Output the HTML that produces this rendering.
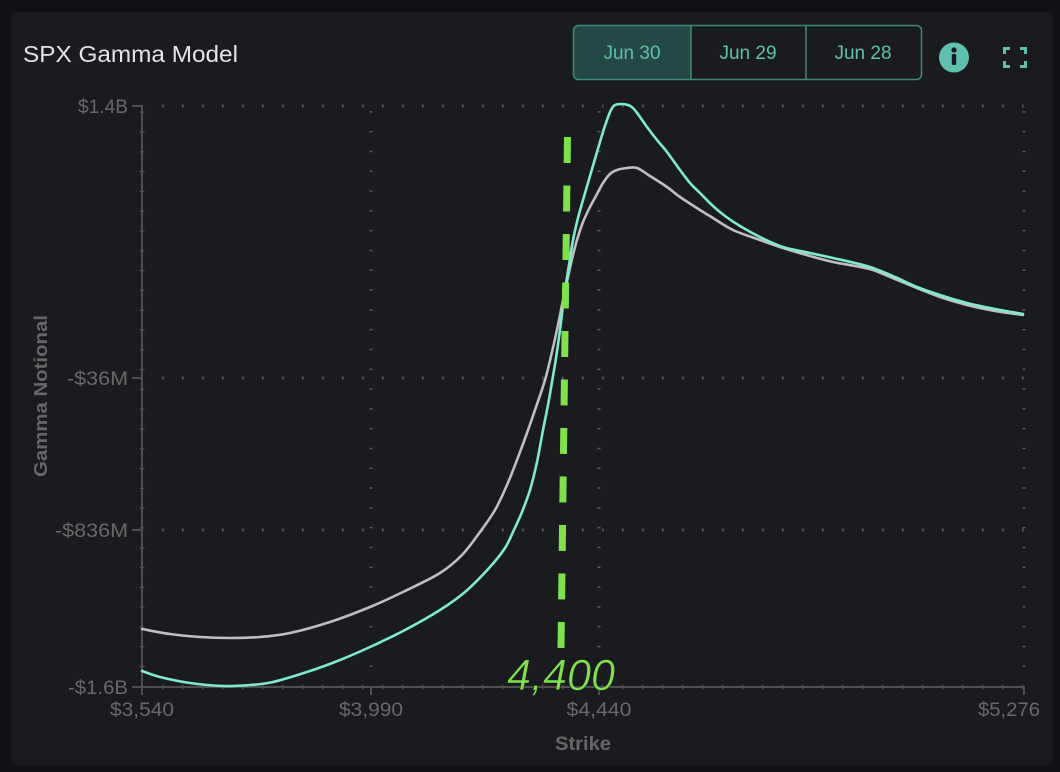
<!DOCTYPE html>
<html><head><meta charset="utf-8"><style>
html,body{margin:0;padding:0;background:#111215;}
svg{display:block;}
</style></head><body>
<svg id="c" width="1060" height="772" viewBox="0 0 1060 772" xmlns="http://www.w3.org/2000/svg" font-family="'Liberation Sans', sans-serif">
<rect x="0" y="0" width="1060" height="772" fill="#111215"/>
<rect x="11" y="12" width="1042" height="753" rx="5" fill="#1a1b1f"/>
<text x="23" y="62" font-size="23" fill="#e4e4e4" textLength="215" lengthAdjust="spacingAndGlyphs">SPX Gamma Model</text>
<!-- buttons -->
<path d="M578.5,25.5 H691 V79.5 H578.5 a5,5 0 0 1 -5,-5 V30.5 a5,5 0 0 1 5,-5 z" fill="#244843"/>
<rect x="573.5" y="25.5" width="348" height="54" rx="5" fill="none" stroke="#3b8b7d" stroke-width="1.5"/>
<line x1="691" y1="25.5" x2="691" y2="79.5" stroke="#3b8b7d" stroke-width="1.5"/>
<line x1="806" y1="25.5" x2="806" y2="79.5" stroke="#3b8b7d" stroke-width="1.5"/>
<g font-size="19" fill="#5ec2ad" text-anchor="middle">
<text x="632" y="59">Jun 30</text>
<text x="748" y="59">Jun 29</text>
<text x="863" y="59">Jun 28</text>
</g>
<circle cx="954" cy="57.5" r="15" fill="#5ec0ad"/>
<circle cx="954" cy="50" r="2.6" fill="#1a1b1f"/>
<rect x="951.8" y="54" width="4.4" height="11" rx="1" fill="#1a1b1f"/>
<g stroke="#5ec0ad" stroke-width="3" fill="none">
<path d="M1004.5,54 V48.5 H1010"/>
<path d="M1020,48.5 H1025.5 V54"/>
<path d="M1025.5,61 V66.5 H1020"/>
<path d="M1010,66.5 H1004.5 V61"/>
</g>
<!-- grid -->
<g stroke="#5a5a5a" fill="none">
<line x1="162" y1="106" x2="1024" y2="106" stroke-width="3" stroke-dasharray="1.5 18.5"/>
<line x1="162" y1="378" x2="1024" y2="378" stroke-width="3" stroke-dasharray="1.5 18.5"/>
<line x1="162" y1="530" x2="1024" y2="530" stroke-width="3" stroke-dasharray="1.5 18.5"/>
<line x1="371" y1="667" x2="371" y2="106" stroke-width="3" stroke-dasharray="1.5 18.3"/>
<line x1="599" y1="667" x2="599" y2="106" stroke-width="3" stroke-dasharray="1.5 18.3"/>
<line x1="1024" y1="667" x2="1024" y2="106" stroke-width="3" stroke-dasharray="1.5 18.3"/>
</g>
<!-- axes -->
<g stroke="#4e4e4e" fill="none">
<line x1="142" y1="105" x2="142" y2="688" stroke-width="2"/>
<line x1="141" y1="687" x2="1025" y2="687" stroke-width="2"/>
<line x1="142" y1="687" x2="142" y2="106" stroke-width="5" stroke-dasharray="1.3 18.5"/>
<line x1="162" y1="687" x2="1024" y2="687" stroke-width="5" stroke-dasharray="1.3 18.7"/>
<line x1="132" y1="106" x2="143" y2="106" stroke-width="2"/>
<line x1="132" y1="378" x2="143" y2="378" stroke-width="2"/>
<line x1="132" y1="530" x2="143" y2="530" stroke-width="2"/>
<line x1="132" y1="687" x2="143" y2="687" stroke-width="2"/>
<line x1="142" y1="686" x2="142" y2="695" stroke-width="2"/>
<line x1="371" y1="686" x2="371" y2="695" stroke-width="2"/>
<line x1="599" y1="686" x2="599" y2="695" stroke-width="2"/>
<line x1="1024" y1="686" x2="1024" y2="695" stroke-width="2"/>
</g>
<g font-size="19" fill="#686868">
<text x="128" y="113" text-anchor="end" textLength="50" lengthAdjust="spacingAndGlyphs">$1.4B</text>
<text x="128" y="385" text-anchor="end" textLength="61" lengthAdjust="spacingAndGlyphs">-$36M</text>
<text x="128" y="537" text-anchor="end" textLength="73" lengthAdjust="spacingAndGlyphs">-$836M</text>
<text x="128" y="694" text-anchor="end" textLength="60" lengthAdjust="spacingAndGlyphs">-$1.6B</text>
<text x="142" y="716" text-anchor="middle" textLength="64" lengthAdjust="spacingAndGlyphs">$3,540</text>
<text x="371" y="716" text-anchor="middle" textLength="64" lengthAdjust="spacingAndGlyphs">$3,990</text>
<text x="599" y="716" text-anchor="middle" textLength="65" lengthAdjust="spacingAndGlyphs">$4,440</text>
<text x="1040" y="716" text-anchor="end" textLength="62" lengthAdjust="spacingAndGlyphs">$5,276</text>
</g>
<text x="583" y="750" font-size="19" font-weight="bold" fill="#666" text-anchor="middle" textLength="56" lengthAdjust="spacingAndGlyphs">Strike</text>
<text transform="translate(47,396) rotate(-90)" font-size="18" font-weight="bold" fill="#666" text-anchor="middle" textLength="162" lengthAdjust="spacingAndGlyphs">Gamma Notional</text>
<!-- series -->
<polyline id="pg" class="ser" fill="none" stroke="#bfbfbf" stroke-width="2.6" stroke-linejoin="round" stroke-linecap="round" points="142,629 170,634 200,637 230,638 260,637 290,633 330,622 370,607 405,591 440,573 462,555 480,532 495,510 507,485 517,460 527,433 535,410 545,380 552,352 558,325 563,300 568,277 573,255 577,240 583,222 590,207 597,194 603,183 610,174 617,170 627,168 637,168 650,176 667,187 680,197 700,210 713,218 733,230 760,240 783,248 810,256 833,262 855,266 873,270 895,279 917,288 940,297 967,305 995,311 1023,315"/>
<polyline id="pt" class="ser" fill="none" stroke="#7fe9d2" stroke-width="2.6" stroke-linejoin="round" stroke-linecap="round" points="142,671 160,677 190,683 223,686 250,685 273,682 310,671 340,660 370,647 405,630 440,610 465,592 490,567 505,548 513,532 522,512 530,490 537,462 543,430 548,405 552,382 556,358 560,330 563,305 565,290 569,265 573,240 578,218 583,200 590,176 597,152 603,132 607,120 611,110 615,105 622,104 628,105 633,108 640,117 647,127 657,140 667,152 680,170 690,183 700,193 713,206 725,216 740,226 760,237 783,247 810,253 833,258 855,263 873,268 895,277 917,287 940,295 967,303 995,309 1023,314"/>
<path id="sg" fill="none" stroke="#bfbfbf" stroke-width="2.6" stroke-linecap="round" d=""/>
<path id="st" fill="none" stroke="#7fe9d2" stroke-width="2.6" stroke-linecap="round" d=""/>
<!-- spot line -->
<line x1="567.5" y1="137" x2="561" y2="648" stroke="#7fe04c" stroke-width="7" stroke-dasharray="26 22.5"/>
<text x="507" y="690" font-size="44" font-style="italic" fill="#7fe04c" stroke="#1a1b1f" stroke-width="0.6" textLength="108" lengthAdjust="spacingAndGlyphs">4,400</text>
</svg>
<script>
(function(){
function smooth(id,target){
  var pl=document.getElementById(id);
  var raw=pl.getAttribute('points').trim().split(/\s+/).map(function(s){var a=s.split(',');return [+a[0],+a[1]];});
  var d='M'+raw[0][0]+','+raw[0][1];
  for(var i=0;i<raw.length-1;i++){
    var p0=raw[i-1]||raw[i],p1=raw[i],p2=raw[i+1],p3=raw[i+2]||raw[i+1];
    var c1x=p1[0]+(p2[0]-p0[0])/6,c1y=p1[1]+(p2[1]-p0[1])/6;
    var c2x=p2[0]-(p3[0]-p1[0])/6,c2y=p2[1]-(p3[1]-p1[1])/6;
    d+=' C'+c1x.toFixed(2)+','+c1y.toFixed(2)+' '+c2x.toFixed(2)+','+c2y.toFixed(2)+' '+p2[0]+','+p2[1];
  }
  document.getElementById(target).setAttribute('d',d);
  pl.setAttribute('visibility','hidden');
}
try{smooth('pg','sg');smooth('pt','st');}catch(e){}
})();
</script>
</body></html>
